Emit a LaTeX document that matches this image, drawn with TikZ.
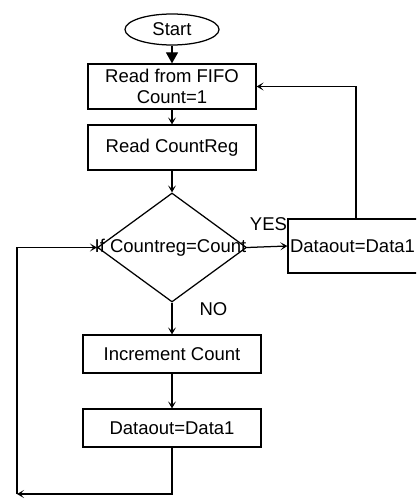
\documentclass[tikz,border=0pt]{standalone}
\usepackage{fontspec}
\setmainfont{Liberation Sans}
\usetikzlibrary{shapes.geometric,arrows.meta}
\begin{document}
\begin{tikzpicture}[x=1pt,y=-1pt,
  every node/.style={font=\fontsize{18.5}{22}\selectfont},
  line/.style={line width=1.25pt},
  arr/.style={line, -{Stealth[length=7pt,width=8pt,inset=3.5pt]}},
  bigarr/.style={line, -{Triangle[length=11pt,width=12pt]}},
  procbox/.style={draw, line width=1.25pt, rectangle, inner sep=0pt, align=center},
  startbox/.style={draw, line width=1.25pt, ellipse, inner sep=0pt, minimum width=94pt, minimum height=31pt},
  decbox/.style={draw, line width=1.25pt, diamond, inner sep=0pt, minimum width=149pt, minimum height=109pt},
  lbl/.style={inner sep=0pt}
]
\clip (0,0) rectangle (416,500);
\fill[white] (0,0) rectangle (416,500);
\node[startbox] (start) at (172,29.5) {Start};
\node[procbox, minimum width=168pt, minimum height=45pt] (fifo) at (172,86.5) {Read from FIFO\\[-1pt]Count=1};
\node[procbox, minimum width=168pt, minimum height=45pt] (creg) at (172,147.5) {Read CountReg};
\node[decbox] (dec) at (172,247.5) {};
\node[lbl] (dectext) at (170.5,247.5) {If Countreg=Count};
\node[procbox, minimum width=136pt, minimum height=54pt] (rout) at (356,246) {};
\node[lbl] (routtext) at (352.5,246) {Dataout=Data1};
\node[procbox, minimum width=178pt, minimum height=38pt] (inc) at (172,354) {Increment Count};
\node[procbox, minimum width=178pt, minimum height=38pt] (dout) at (172,428) {Dataout=Data1};
\node[lbl] (yes) at (268.5,224.5) {YES};
\node[lbl] (no) at (213.5,309.5) {NO};
\coordinate (corner) at (17,494);

\draw[bigarr] (start) -- (fifo);
\draw[arr] (fifo) -- (creg);
\draw[arr] (creg) -- (dec.north);
\draw[arr] (dec.east) -- (rout.west);
\draw[arr] (rout.north) |- (fifo.east);
\draw[arr] (dec.south) -- (inc);
\draw[arr] (inc) -- (dout);
\draw[arr] (dout.south) |- (corner);
\draw[arr] (corner) |- (dec.west);
\end{tikzpicture}
\end{document}
